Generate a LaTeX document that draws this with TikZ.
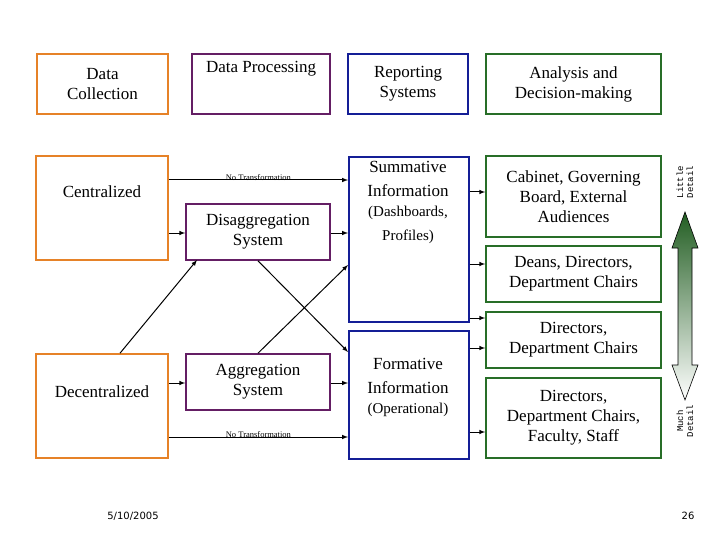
\documentclass[tikz,border=0pt]{standalone}
\usepackage{fontspec}
\setmainfont{Liberation Serif}
\newfontfamily\sansf{DejaVu Sans}
\newfontfamily\monof{Liberation Mono}
\definecolor{cor}{RGB}{230,130,40}
\definecolor{cpu}{RGB}{100,30,100}
\definecolor{cbl}{RGB}{20,30,150}
\definecolor{cgr}{RGB}{40,110,40}
\begin{document}
\begin{tikzpicture}[x=1pt,y=-1pt,
  bx/.style={draw,line width=1.6pt,align=center,font=\fontsize{17}{20}\selectfont,inner sep=0pt},
  ar/.style={-latex,line width=1pt},
  sm/.style={font=\fontsize{8.5}{9}\selectfont,inner sep=1pt}]
\useasboundingbox (0,0) rectangle (720,540);
\newcommand\bxx[7]{\node[bx,draw=#6,minimum width=#3-#1,minimum height=#4-#2] (#5) at ({(#1+#3)/2},{(#2+#4)/2}) {#7};}
\bxx{37}{54}{168}{114}{h1}{cor}{Data\\Collection}
\bxx{192}{54}{330}{114}{h2}{cpu}{Data Processing\\[14pt]}
\bxx{348}{54}{468}{114}{h3}{cbl}{Reporting\\Systems}
\bxx{486}{54}{661}{114}{h4}{cgr}{Analysis and\\Decision-making}
\bxx{36}{156}{168}{260}{cen}{cor}{Centralized\\[12pt]}
\bxx{36}{354}{168}{458}{dec}{cor}{Decentralized\\[8pt]}
\bxx{186}{204}{330}{260}{dis}{cpu}{Disaggregation\\System}
\bxx{186}{354}{330}{410}{agg}{cpu}{Aggregation\\System}
\node[bx,draw=cbl,minimum width=120,minimum height=165,anchor=north west] (sum) at (348,156) {};
\node[align=center,anchor=north,font=\fontsize{17}{24}\selectfont] at (408,158) {Summative\\Information\\[-4pt]\fontsize{15}{20}\selectfont(Dashboards,\\\fontsize{15}{20}\selectfont Profiles)};
\node[bx,draw=cbl,minimum width=120,minimum height=128,anchor=north west] (for) at (348,330) {};
\node[align=center,anchor=north,font=\fontsize{17}{24}\selectfont] at (408,355) {Formative\\Information\\[-4pt]\fontsize{15}{20}\selectfont(Operational)};
\bxx{486}{156}{661}{237}{g1}{cgr}{Cabinet, Governing\\Board, External\\Audiences}
\bxx{486}{246}{661}{302}{g2}{cgr}{Deans, Directors,\\Department Chairs}
\bxx{486}{312}{661}{368}{g3}{cgr}{Directors,\\Department Chairs}
\bxx{486}{378}{661}{458}{g4}{cgr}{Directors,\\Department Chairs,\\Faculty, Staff}
% connectors
\draw[ar] (cen.east|-0,180) -- node[sm,above=-2pt]{No Transformation} (sum.west|-0,180);
\draw[ar] (cen.east|-0,233) -- (dis.west|-0,233);
\draw[ar] (dis.east|-0,233) -- (sum.west|-0,233);
\draw[ar] (dec.north-|120,0) -- (197,260);
\draw[ar] (dis.south) -- (for.west|-0,352);
\draw[ar] (agg.north) -- (sum.west|-0,265);
\draw[ar] (dec.east|-0,383) -- (agg.west|-0,383);
\draw[ar] (agg.east|-0,383) -- (for.west|-0,383);
\draw[ar] (dec.east|-0,437) -- node[sm,above=-2pt]{No Transformation} (for.west|-0,437);
\draw[ar] (sum.east|-0,192) -- (g1.west|-0,192);
\draw[ar] (sum.east|-0,264) -- (g2.west|-0,264);
\draw[ar] (sum.east|-0,318) -- (g3.west|-0,318);
\draw[ar] (for.east|-0,348) -- (g3.west|-0,348);
\draw[ar] (for.east|-0,432) -- (g4.west|-0,432);
% double arrow
\shade[top color=cgr!85!black,bottom color=white,draw=black,line width=0.6pt]
 (685,212) -- (698,248) -- (692,248) -- (692,365) -- (698,365) -- (685,400) -- (672,365) -- (678,365) -- (678,248) -- (672,248) -- cycle;
\node[rotate=90,font=\monof\fontsize{9}{10}\selectfont,align=center] at (685,182) {Little\\Detail};
\node[rotate=90,font=\monof\fontsize{9}{10}\selectfont,align=center] at (685,421) {Much\\Detail};
\node[font=\sansf\fontsize{10}{12}\selectfont] at (133,516) {5/10/2005};
\node[font=\sansf\fontsize{10}{12}\selectfont] at (688,516) {26};
\end{tikzpicture}
\end{document}
